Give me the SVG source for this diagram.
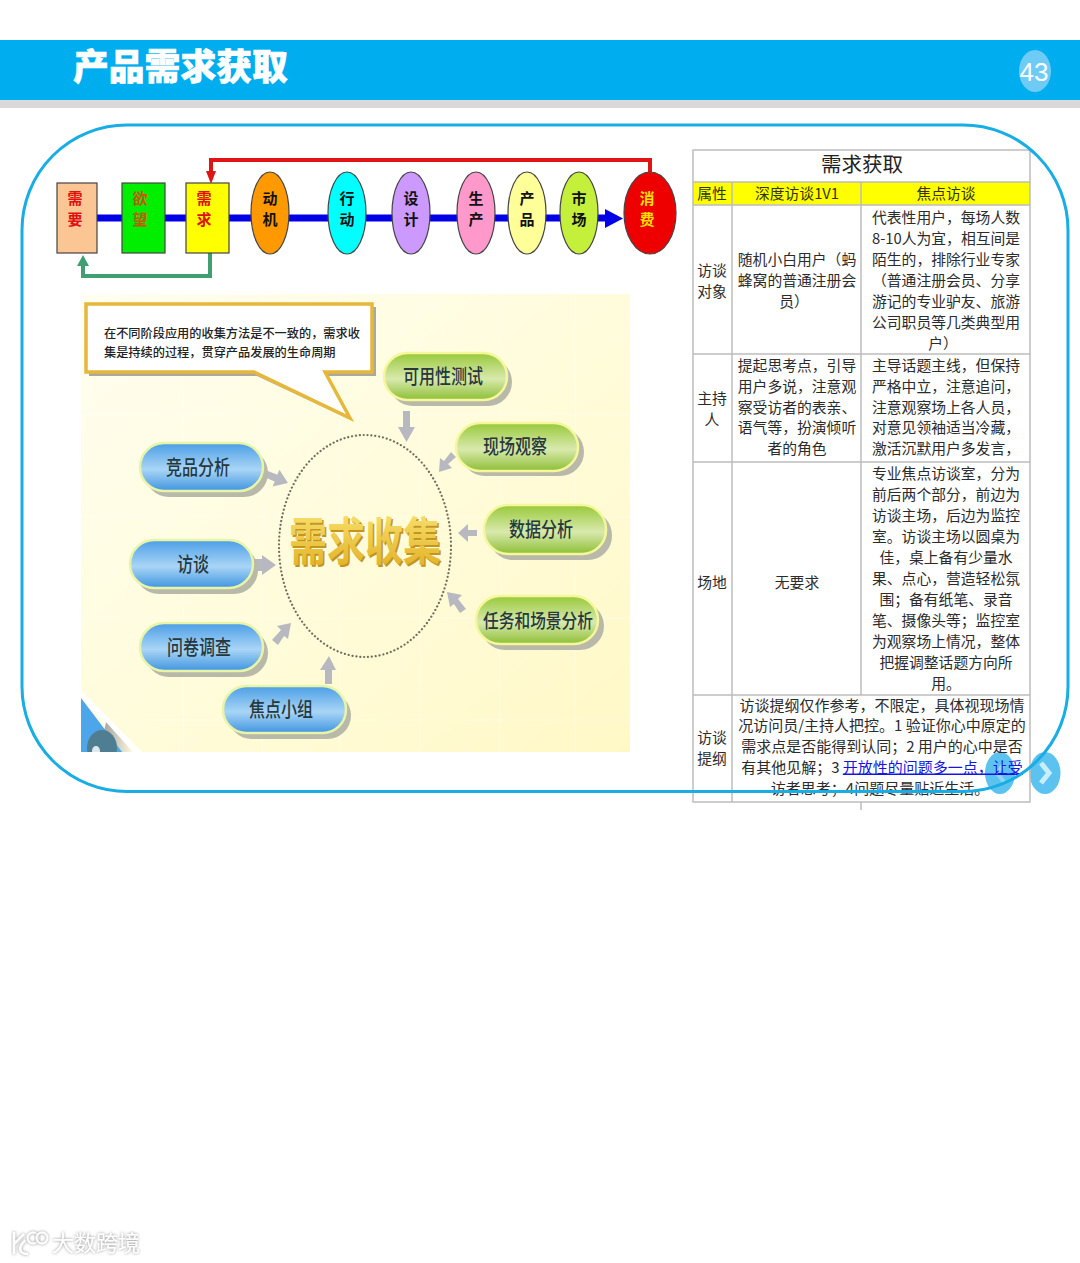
<svg xmlns="http://www.w3.org/2000/svg" width="1080" height="1263" viewBox="0 0 1080 1263">
<style>
text{font-family:"Noto Sans CJK SC","Noto Sans",sans-serif}
.t{font-size:14.8px;fill:#2b2b2b;text-anchor:middle}
.t4{font-size:15px}
.f{font-size:15px;font-weight:700;text-anchor:middle;fill:#111}
.p{font-size:16px;font-weight:500;text-anchor:middle;fill:#26383c}
.pb{stroke:#e9f5a6;stroke-width:2.5;fill:url(#blue)}
.pg{stroke:#f6f79c;stroke-width:2.5;fill:url(#green)}
.sh{fill:#b9b9a9}
.ar{fill:#b8b9c0}
.fn{stroke:#444;stroke-width:1.2}
.g{stroke:#bdbdbd;stroke-width:1.5;fill:none}
.w{font-size:22px;fill:#fff;filter:url(#glow)}
</style>
<defs>
<linearGradient id="bg" x1="0" y1="0" x2="1" y2="1"><stop offset="0" stop-color="#fffef0"/><stop offset="0.5" stop-color="#fffcdc"/><stop offset="1" stop-color="#fff8c6"/></linearGradient>
<linearGradient id="blue" x1="0" y1="0" x2="0" y2="1"><stop offset="0" stop-color="#4b9ee6"/><stop offset="0.55" stop-color="#a9d5f6"/><stop offset="1" stop-color="#3f95e0"/></linearGradient>
<linearGradient id="green" x1="0" y1="0" x2="0" y2="1"><stop offset="0" stop-color="#98c93a"/><stop offset="0.55" stop-color="#d9e9ad"/><stop offset="1" stop-color="#8dbf35"/></linearGradient>
<linearGradient id="gold" x1="0" y1="0" x2="0" y2="1"><stop offset="0" stop-color="#fbe97a"/><stop offset="1" stop-color="#e0ac20"/></linearGradient>
<linearGradient id="fade" x1="0" y1="0" x2="1" y2="0"><stop offset="0" stop-color="#9a9a9a"/><stop offset="1" stop-color="#fffbe0"/></linearGradient>
<filter id="glow" x="-20%" y="-30%" width="140%" height="160%"><feDropShadow dx="0" dy="0" stdDeviation="1.4" flood-color="#8a8a8a"/></filter>
</defs>
<rect width="1080" height="1263" fill="#fff"/>
<g id="header">
<rect y="40" width="1080" height="60" fill="#00aeef"/>
<rect y="100" width="1080" height="8" fill="#d9d9d9"/>
<text x="73" y="80" font-size="35.800" font-weight="900" fill="#fff" stroke="#fff" stroke-width=".6">产品需求获取</text>
<ellipse cx="1035" cy="71" rx="16" ry="21" fill="#6dcbf5"/>
<text x="1034" y="81" font-size="26" fill="#fff" text-anchor="middle" style="font-family:'Liberation Sans',sans-serif">43</text>
</g>
<g id="connectors">
<rect x="97" y="214.500" width="510" height="7" fill="#0000e6"/>
<path d="M605 209L623 218.500L605 228Z" fill="#0000e6"/>
<path d="M650 172V160H211V176" fill="none" stroke="#e01414" stroke-width="4"/>
<path d="M206 171H216L211 184Z" fill="#e01414"/>
<path d="M210 253V276H83V264" fill="none" stroke="#3f9f70" stroke-width="4"/>
<path d="M77 266H89L83 255Z" fill="#3f9f70"/>
</g>
<g id="node-xuyao"><rect class="fn" x="57" y="183" width="40" height="70" fill="#fcc594"/><text class="f" style="fill:#e01010" y="204"><tspan x="75">需</tspan><tspan x="75" dy="21">要</tspan></text></g>
<g id="node-yuwang"><rect class="fn" x="122" y="183" width="43" height="70" fill="#00ee00"/><text class="f" style="fill:#c8560a" y="204"><tspan x="140">欲</tspan><tspan x="140" dy="21">望</tspan></text></g>
<g id="node-xuqiu"><rect class="fn" x="186" y="183" width="43" height="70" fill="#ffff00"/><text class="f" style="fill:#e01010" y="204"><tspan x="204">需</tspan><tspan x="204" dy="21">求</tspan></text></g>
<g id="node-dongji"><ellipse class="fn" cx="270" cy="213" rx="19" ry="41" fill="#ff9900"/><text class="f" y="204"><tspan x="270">动</tspan><tspan x="270" dy="21">机</tspan></text></g>
<g id="node-xingdong"><ellipse class="fn" cx="347" cy="213" rx="19" ry="41" fill="#00ffff"/><text class="f" y="204"><tspan x="347">行</tspan><tspan x="347" dy="21">动</tspan></text></g>
<g id="node-sheji"><ellipse class="fn" cx="411" cy="213" rx="19" ry="41" fill="#cc99ff"/><text class="f" y="204"><tspan x="411">设</tspan><tspan x="411" dy="21">计</tspan></text></g>
<g id="node-shengchan"><ellipse class="fn" cx="476" cy="213" rx="19" ry="41" fill="#ff99cc"/><text class="f" y="204"><tspan x="476">生</tspan><tspan x="476" dy="21">产</tspan></text></g>
<g id="node-chanpin"><ellipse class="fn" cx="527" cy="213" rx="19" ry="41" fill="#ffff99"/><text class="f" y="204"><tspan x="527">产</tspan><tspan x="527" dy="21">品</tspan></text></g>
<g id="node-shichang"><ellipse class="fn" cx="579" cy="213" rx="19" ry="41" fill="#c4f03c"/><text class="f" y="204"><tspan x="579">市</tspan><tspan x="579" dy="21">场</tspan></text></g>
<g id="node-xiaofei"><ellipse class="fn" cx="650" cy="213" rx="26" ry="41" fill="#ee0000"/><text class="f" style="fill:#ffdf00" y="204"><tspan x="647">消</tspan><tspan x="647" dy="21">费</tspan></text></g>

<g id="collect-panel">
<rect x="81" y="294" width="549" height="458" fill="url(#bg)"/>
<path d="M81 415H630M81 517H630M81 618H630M81 720H630M183 294V752M262 294V752M340 294V752M420 294V752M500 294V752M575 294V752" stroke="#fff" stroke-opacity=".4" fill="none"/>
<path d="M81 690L142 752H130L81 698Z" fill="#fff"/>
<path d="M106 722L133 752H100Z" fill="url(#fade)"/>
<path d="M81 698L122 752H81Z" fill="#4da6ea"/>
<ellipse cx="102" cy="748" rx="15" ry="18" fill="#4f7d92"/>
<ellipse cx="96" cy="751" rx="4" ry="5" fill="#dfe9ee"/>
<rect x="81" y="752" width="60" height="18" fill="#fff"/>
</g>
<g id="callout">
<path d="M89 307H376V376H328L353 421L257 376H89Z" fill="#a9a9a0"/>
<path d="M86 304H372V372H325L350 418L254 372H86Z" fill="#fff" stroke="#e6b73a" stroke-width="3.500"/>
<text x="104" y="338" font-size="12.200" font-weight="500" fill="#222">在不同阶段应用的收集方法是不一致的，需求收</text>
<text x="104" y="357" font-size="12.200" font-weight="500" fill="#222">集是持续的过程，贯穿产品发展的生命周期</text>
</g>
<g id="center">
<ellipse cx="365" cy="546" rx="86" ry="111" fill="none" stroke="#6f6f5f" stroke-width="2.200" stroke-dasharray="0.100 3.800" stroke-linecap="round"/>
<text transform="translate(290.500,562) scale(1,1.35)" font-size="38" font-weight="700" fill="#c2951f">需求收集</text>
<text transform="translate(289,560) scale(1,1.35)" font-size="38" font-weight="700" fill="url(#gold)">需求收集</text>
</g>
<g id="arrows">
<path class="ar" d="M403 411H410V427H415L406.500 442L398 427H403Z"/>
<path class="ar" d="M456 457L451 452L444 461L440 458L439 472L452 468L448 464Z"/>
<path class="ar" d="M264.700 477.300L267.300 470.700L277.300 474.800L279.400 469.700L288 483L272.600 486.500L274.700 481.400Z"/>
<path class="ar" d="M477 530V536H468V542L458 533L468 524V530Z"/>
<path class="ar" d="M255 559H262V555L276 565L262 575V571H255Z"/>
<path class="ar" d="M466 609L460 613L454 604L450 607L447 592L462 595L458 599Z"/>
<path class="ar" d="M272 640L278 645L284 636L288 639L291 623L277 626L281 630Z"/>
<path class="ar" d="M325 684V670H320L329 656L336 670H332V684Z"/>
</g>
<g id="pill-keyong"><rect class="sh" x="389" y="358" width="123" height="48" rx="24"/><rect class="pg" x="384" y="353" width="123" height="47" rx="23.500"/><text class="p" transform="translate(443,384) scale(1,1.25)">可用性测试</text></g>
<g id="pill-xianchang"><rect class="sh" x="461" y="428" width="123" height="48" rx="24"/><rect class="pg" x="456" y="423" width="122" height="48" rx="24"/><text class="p" transform="translate(515,454) scale(1,1.25)">现场观察</text></g>
<g id="pill-jingpin"><rect class="sh" x="145" y="449" width="123" height="48" rx="24"/><rect class="pb" x="140" y="443" width="123" height="48" rx="24"/><text class="p" transform="translate(198,475) scale(1,1.25)">竞品分析</text></g>
<g id="pill-shuju"><rect class="sh" x="489" y="511" width="123" height="49" rx="24"/><rect class="pg" x="484" y="505" width="122" height="49" rx="24"/><text class="p" transform="translate(541,537) scale(1,1.25)">数据分析</text></g>
<g id="pill-fangtan"><rect class="sh" x="135" y="546" width="123" height="48" rx="24"/><rect class="pb" x="130" y="540" width="123" height="48" rx="24"/><text class="p" transform="translate(193,572) scale(1,1.25)">访谈</text></g>
<g id="pill-renwu"><rect class="sh" x="481" y="602" width="123" height="48" rx="24"/><rect class="pg" x="476" y="596" width="122" height="48" rx="24"/><text class="p" transform="translate(538,628) scale(1,1.25)" style="font-size:15.700px">任务和场景分析</text></g>
<g id="pill-wenjuan"><rect class="sh" x="145" y="629" width="123" height="48" rx="24"/><rect class="pb" x="140" y="623" width="123" height="48" rx="24"/><text class="p" transform="translate(199,655) scale(1,1.25)">问卷调查</text></g>
<g id="pill-jiaodian"><rect class="sh" x="228" y="692" width="123" height="47" rx="23.500"/><rect class="pb" x="223" y="686" width="123" height="47" rx="23.500"/><text class="p" transform="translate(281,717) scale(1,1.25)">焦点小组</text></g>

<g id="nav">
<ellipse cx="1000" cy="773" rx="15" ry="21" fill="#5cc3f0"/>
<path d="M1004 764L997 773L1004 782" fill="none" stroke="#8fd6f5" stroke-width="4"/>
<ellipse cx="1045" cy="773" rx="15.500" ry="21" fill="#5cc3f0"/>
<path d="M1041 763L1049 773L1041 783" fill="none" stroke="#c9eefb" stroke-width="5"/>
</g>
<g id="table">
<rect x="693" y="182" width="337" height="23" fill="#ffff00"/>
<path class="g" d="M693 150H1030V802H693ZM693 182H1030M693 205H1030M693 354H1030M693 462H1030M693 695H1030M732 182V802M861 182V695M861 802V810"/>
<text x="862" y="172" font-size="20.500" text-anchor="middle" fill="#222">需求获取</text>
<text class="t" style="fill:#333300" x="712" y="198.500">属性</text>
<text class="t" style="fill:#333300" x="797" y="198.500">深度访谈1V1</text>
<text class="t" style="fill:#333300" x="946" y="198.500">焦点访谈</text>
<text class="t" x="712" y="275.500">访谈</text><text class="t" x="712" y="296.500">对象</text>
<text class="t" x="797" y="265">随机小白用户（蚂</text><text class="t" x="797" y="286">蜂窝的普通注册会</text><text class="t" x="794" y="307">员）</text>
<text class="t" x="946" y="223">代表性用户，每场人数</text>
<text class="t" x="946" y="244">8-10人为宜，相互间是</text>
<text class="t" x="946" y="265">陌生的，排除行业专家</text>
<text class="t" x="946" y="286">（普通注册会员、分享</text>
<text class="t" x="946" y="307">游记的专业驴友、旅游</text>
<text class="t" x="946" y="328">公司职员等几类典型用</text>
<text class="t" x="943" y="349">户）</text>
<text class="t" x="712" y="403.500">主持</text><text class="t" x="712" y="424.500">人</text>
<text class="t" x="797" y="371">提起思考点，引导</text><text class="t" x="797" y="392">用户多说，注意观</text><text class="t" x="797" y="413">察受访者的表亲、</text><text class="t" x="797" y="433">语气等，扮演倾听</text><text class="t" x="797" y="454">者的角色</text>
<text class="t" x="946" y="371">主导话题主线，但保持</text><text class="t" x="946" y="392">严格中立，注意追问，</text><text class="t" x="946" y="413">注意观察场上各人员，</text><text class="t" x="946" y="433">对意见领袖适当冷藏，</text><text class="t" x="946" y="454">激活沉默用户多发言，</text>
<text class="t" x="712" y="587.500">场地</text>
<text class="t" x="797" y="587.500">无要求</text>
<text class="t" x="946" y="479">专业焦点访谈室，分为</text>
<text class="t" x="946" y="500">前后两个部分，前边为</text>
<text class="t" x="946" y="521">访谈主场，后边为监控</text>
<text class="t" x="946" y="542">室。访谈主场以圆桌为</text>
<text class="t" x="946" y="563">佳，桌上备有少量水</text>
<text class="t" x="946" y="584">果、点心，营造轻松氛</text>
<text class="t" x="946" y="605">围；备有纸笔、录音</text>
<text class="t" x="946" y="626">笔、摄像头等；监控室</text>
<text class="t" x="946" y="647">为观察场上情况，整体</text>
<text class="t" x="946" y="668">把握调整话题方向所</text>
<text class="t" x="946" y="689">用。</text>
<text class="t" x="712" y="742.500">访谈</text><text class="t" x="712" y="763.500">提纲</text>
<text class="t t4" x="882" y="711">访谈提纲仅作参考，不限定，具体视现场情</text>
<text class="t t4" x="882" y="731">况访问员/主持人把控。1 验证你心中原定的</text>
<text class="t t4" x="882" y="752">需求点是否能得到认同；2 用户的心中是否</text>
<text class="t t4" x="882" y="772.500">有其他见解；3 <tspan fill="#1414e6" text-decoration="underline">开放性的问题多一点，让受</tspan></text>
<text class="t t4" x="880" y="793.500">访者思考；4问题尽量贴近生活。</text>
</g>
<rect id="frame" x="22" y="125" width="1046" height="666.500" rx="105" ry="105" fill="none" stroke="#18ade4" stroke-width="3"/>
<g id="watermark">
<path d="M14 1232V1254M14 1244L24 1234M26 1240C18 1246 18 1254 28 1254" fill="none" stroke="#fff" stroke-width="2.500" filter="url(#glow)"/>
<circle cx="33" cy="1238" r="5.500" fill="none" stroke="#fff" stroke-width="2" filter="url(#glow)"/>
<circle cx="42" cy="1238" r="5.500" fill="none" stroke="#fff" stroke-width="2" filter="url(#glow)"/>
<text class="w" x="52" y="1251">大数跨境</text>
</g>
</svg>
